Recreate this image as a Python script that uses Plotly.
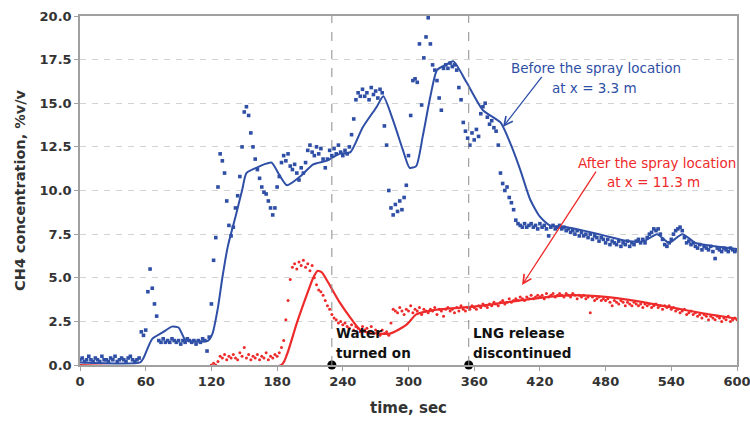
import numpy as np
import plotly.graph_objects as go

# Measured CH4 concentration (%v/v), sampled every 2 s
# Upstream of the water spray (x = 3.3 m), t = 0 .. 600 s
t_before = np.arange(0, 601, 2)
before_meas = [
    0.3, 0.4, 0.2, 0.3, 0.5, 0.3, 0.2, 0.4, 0.3, 0.2,        # 0-18
    0.5, 0.3, 0.3, 0.2, 0.4, 0.3, 0.5, 0.2, 0.3, 0.4,        # 20-38
    0.3, 0.2, 0.4, 0.5, 0.3, 0.2, 0.3, 0.4, 1.9, 1.7,        # 40-58
    2.0, 4.2, 5.5, 4.4, 3.5, 2.8, 1.4, 1.3, 1.5, 1.3,        # 60-78
    1.4, 1.3, 1.5, 1.4, 1.3, 1.4, 1.2, 1.4, 1.3, 1.5,        # 80-98
    1.4, 1.3, 1.4, 1.2, 1.4, 1.3, 1.5, 1.4, 0.8, 1.6,        # 100-118
    3.5, 6.0, 7.3, 10.2, 12.1, 11.7, 11.0, 9.4, 8.0, 7.4,    # 120-138
    7.9, 9.0, 9.7, 10.8, 12.5, 14.5, 14.8, 14.3, 13.3, 12.5, # 140-158
    11.8, 11.2, 10.7, 10.2, 9.9, 9.8, 9.4, 9.0, 8.6, 9.0,    # 160-178
    10.2, 10.8, 11.6, 12.0, 11.7, 12.1, 11.4, 11.2, 11.5, 11.0,  # 180-198
    10.6, 11.3, 11.0, 11.6, 12.3, 12.6, 12.2, 12.0, 12.5, 12.1,  # 200-218
    12.4, 11.8, 11.3, 11.8, 12.3, 12.0, 12.4, 12.1, 12.6, 12.2,  # 220-238
    12.0, 12.3, 12.1, 12.5, 13.2, 14.1, 15.2, 15.6, 15.4, 15.8,  # 240-258
    15.4, 15.6, 15.2, 15.9, 15.5, 15.7, 15.3, 15.8, 15.6, 13.7,  # 260-278
    12.6, 10.0, 9.0, 8.6, 9.2, 8.8, 9.4, 8.9, 9.6, 10.3,     # 280-298
    12.0, 14.3, 16.3, 16.4, 16.2, 18.4, 14.9, 17.6, 18.8, 19.9,  # 300-318
    18.4, 17.2, 16.9, 16.3, 15.3, 14.6, 17.0, 17.2, 17.0, 17.3,  # 320-338
    17.1, 17.2, 16.9, 15.9, 15.2, 13.9, 13.4, 13.0, 12.6, 13.3,  # 340-358
    12.9, 13.5, 13.1, 14.4, 14.8, 15.0, 14.2, 13.8, 14.0, 13.6,  # 360-378
    13.4, 12.6, 11.0, 10.4, 10.0, 10.2, 9.6, 9.3, 8.9, 8.3,  # 380-398
    8.1, 8.0, 7.9, 8.1, 7.9, 8.0, 8.1, 7.9, 8.0, 7.8,        # 400-418
    8.1, 7.9, 8.0, 7.8, 7.4, 7.9, 8.0, 7.8, 7.9, 8.0,        # 420-438
    7.8, 7.9, 7.7, 7.8, 7.6, 7.7, 7.5, 7.7, 7.4, 7.6,        # 440-458
    7.4, 7.5, 7.3, 7.5, 7.2, 7.4, 7.3, 7.1, 7.3, 7.2,        # 460-478
    7.0, 7.2, 6.9, 7.1, 7.0, 6.9, 7.1, 6.8, 7.0, 6.9,        # 480-498
    7.1, 6.8, 7.0, 6.9, 7.1, 7.2, 7.0, 7.2, 7.0, 7.3,        # 500-518
    7.5, 7.6, 7.8, 7.7, 7.8, 7.5, 7.2, 6.9, 6.8, 7.0,        # 520-538
    7.2, 7.5, 7.7, 7.8, 7.9, 7.7, 7.3, 7.0, 7.1, 6.9,        # 540-558
    7.0, 6.8, 6.7, 6.9, 6.6, 6.8, 6.7, 6.6, 6.8, 6.5,        # 560-578
    6.1, 6.7, 6.6, 6.5, 6.7, 6.6, 6.5, 6.7, 6.6, 6.5,        # 580-598
    6.6,                                                     # 600
]

# Downstream of the water spray (x = 11.3 m), t = 120 .. 600 s
t_after = np.arange(120, 601, 2)
after_meas = [
    0.0, 0.1, 0.0, 0.2, 0.5, 0.4, 0.6, 0.3, 0.5, 0.4,        # 120-138
    0.6, 0.4, 0.3, 0.7, 0.5, 1.0, 0.4, 0.6, 0.3, 0.5,        # 140-158
    0.4, 0.6, 0.3, 0.5, 0.4, 0.7, 0.3, 0.5, 0.4, 0.6,        # 160-178
    0.5, 0.7, 1.0, 1.4, 2.6, 3.7, 4.9, 5.6, 5.8, 5.5,        # 180-198
    5.9, 5.7, 6.0, 5.6, 5.8, 5.4, 5.7, 5.0, 4.6, 4.3,        # 200-218
    4.2, 4.0, 3.7, 3.4, 3.2, 2.9, 2.7, 2.6, 2.4, 2.5,        # 220-238
    2.3, 2.4, 2.2, 2.1, 2.3, 2.0, 2.2, 2.1, 1.9, 2.2,        # 240-258
    2.0, 2.1, 1.9, 2.2, 1.8, 2.0, 1.9, 1.7, 2.0, 1.8,        # 260-278
    1.9, 1.7, 2.4, 3.2, 3.1, 3.0, 3.3, 3.1, 2.9, 3.2,        # 280-298
    3.1, 3.4, 3.0, 3.2, 3.1, 3.3, 2.9, 3.2, 3.1, 3.0,        # 300-318
    3.2, 3.1, 3.3, 2.9, 3.2, 3.1, 2.8, 3.2, 3.3, 3.1,        # 320-338
    3.2, 3.0, 3.3, 3.1, 3.4, 3.2, 3.1, 3.3, 3.2, 3.4,        # 340-358
    3.3, 3.2, 3.4, 3.3, 3.5, 3.4, 3.3, 3.5, 3.4, 3.6,        # 360-378
    3.5, 3.4, 3.6, 3.7, 3.5, 3.6, 3.8, 3.6, 3.7, 3.8,        # 380-398
    3.7, 3.9, 3.8, 3.7, 3.9, 3.8, 4.0, 3.8, 3.9, 4.0,        # 400-418
    3.9, 4.0, 3.8, 4.1, 3.9, 4.0, 4.1, 3.9, 4.0, 4.1,        # 420-438
    4.0, 3.9, 4.1, 4.0, 3.9, 4.1, 4.0, 3.8, 4.0, 3.9,        # 440-458
    4.0, 3.8, 3.9, 3.0, 3.9, 3.7, 3.8, 3.9, 3.7, 3.8,        # 460-478
    3.7, 3.8, 3.6, 3.4, 3.7, 3.6, 3.5, 3.7, 3.6, 3.4,        # 480-498
    3.6, 3.5, 3.4, 3.6, 3.5, 3.4, 3.5, 3.3, 3.5, 3.4,        # 500-518
    3.5, 3.3, 3.4, 3.5, 3.3, 3.4, 3.2, 3.4, 3.3, 3.4,        # 520-538
    3.2, 3.3, 3.1, 3.2, 3.0, 3.1, 3.2, 2.9, 3.0, 3.1,        # 540-558
    2.9, 3.0, 2.8, 2.9, 2.7, 2.9, 2.8, 2.6, 2.8, 2.7,        # 560-578
    2.6, 2.8, 2.7, 2.5, 2.7, 2.6, 2.8, 2.5, 2.6, 2.7,        # 580-598
    2.6,                                                     # 600
]

# Model predictions (smooth curves)
t_model_before = [0, 55, 58, 62, 66, 75, 84, 90, 96, 102, 117, 121, 126, 130,
                  135, 142, 148, 152, 161, 168, 175, 182, 189, 201, 213, 225,
                  237, 247, 258, 271, 277, 286, 295, 301, 307, 313, 320, 326,
                  334, 341, 353, 368, 384, 393, 402, 411, 420, 429, 445, 460,
                  480, 500, 515, 527, 538, 550, 562, 580, 600]
model_before = [0.15, 0.15, 0.4, 1.0, 1.5, 1.85, 2.2, 2.15, 1.45, 1.35, 1.4,
                1.8, 3.3, 5.0, 6.8, 8.5, 10.0, 11.0, 11.3, 11.5, 11.6, 10.9,
                10.3, 10.8, 11.5, 11.7, 12.1, 12.2, 13.6, 14.8, 15.4, 14.0,
                12.3, 11.3, 11.4, 13.1, 15.4, 16.9, 17.2, 17.4, 16.2, 14.6,
                13.9, 12.7, 11.2, 9.5, 8.5, 8.0, 7.9, 7.7, 7.4, 7.1, 7.1, 7.5,
                7.0, 7.5, 7.0, 6.8, 6.65]

t_model_after = [0, 184, 189, 198, 207, 213, 217, 221, 226, 237, 247, 256,
                 265, 283, 298, 307, 315, 330, 360, 390, 420, 450, 480, 510,
                 540, 570, 600]
model_after = [0.0, 0.0, 0.6, 2.4, 4.0, 5.0, 5.4, 5.3, 4.8, 3.6, 2.7, 2.0,
               1.85, 1.8, 2.3, 2.9, 3.05, 3.2, 3.35, 3.6, 3.85, 4.0, 3.9, 3.65,
               3.3, 2.95, 2.65]

# Event times on the time axis
event_times = [230, 355]
event_labels = [["Water", "turned on"], ["LNG release", "discontinued"]]

x_ticks = list(range(0, 601, 60))
y_ticks = [0, 2.5, 5, 7.5, 10, 12.5, 15, 17.5, 20]

BLUE = "#2f4fa6"
RED = "#ee2a2a"
FONT = "DejaVu Sans"

fig = go.Figure()

fig.add_trace(go.Scatter(
    x=t_before, y=before_meas, mode="markers",
    marker=dict(symbol="square", size=3.6, color=BLUE),
    name="Before, measured"))
fig.add_trace(go.Scatter(
    x=t_model_before, y=model_before, mode="lines",
    line=dict(color=BLUE, width=2, shape="spline", smoothing=0.6),
    name="Before, model"))
fig.add_trace(go.Scatter(
    x=t_after, y=after_meas, mode="markers",
    marker=dict(symbol="circle", size=3, color=RED),
    name="After, measured"))
fig.add_trace(go.Scatter(
    x=t_model_after, y=model_after, mode="lines",
    line=dict(color=RED, width=2.2, shape="spline", smoothing=0.6),
    name="After, model"))

# Event markers on the time axis
fig.add_trace(go.Scatter(
    x=event_times, y=[0, 0], mode="markers",
    marker=dict(color="black", size=9), cliponaxis=False,
    name="Events"))

for t in event_times:
    fig.add_shape(type="line", x0=t, x1=t, y0=0, y1=20, xref="x", yref="y",
                  line=dict(color="#8c8c8c", width=1, dash="dash"))

annotations = []
# Event labels
for t, lines in zip(event_times, event_labels):
    for i, txt in enumerate(lines):
        annotations.append(dict(
            x=t + 2, y=[1.83, 0.69][i], xref="x", yref="y", text=txt,
            showarrow=False, xanchor="left", yanchor="middle",
            font=dict(family=FONT, size=13.5, color="#111", weight="bold")))

# Series call-outs with arrows
callouts = [
    (["Before the spray location", "at x = 3.3 m"], [596, 594], [68, 88], BLUE,
     (386.3, 13.64), (422.8, 16.6)),
    (["After the spray location", "at x = 11.3 m"], [657, 653], [163, 182], RED,
     (403.7, 4.58), (472.1, 11.17)),
]
for lines, xs, ys, col, head, tail in callouts:
    for txt, px, py in zip(lines, xs, ys):
        annotations.append(dict(
            x=(px - 80) / 657, y=1 - (py - 16) / 349, xref="paper", yref="paper",
            text=txt, showarrow=False, xanchor="center", yanchor="middle",
            font=dict(family=FONT, size=13.5, color=col)))
    annotations.append(dict(
        x=head[0], y=head[1], ax=tail[0], ay=tail[1], xref="x", yref="y",
        axref="x", ayref="y", text="", showarrow=True, arrowhead=5,
        arrowsize=1.3, arrowwidth=1.3, arrowcolor=col))

fig.update_layout(
    width=750, height=430,
    margin=dict(l=80, r=13, t=16, b=65),
    paper_bgcolor="white", plot_bgcolor="white",
    showlegend=False,
    font=dict(family=FONT, color="#333"),
    annotations=annotations,
)

fig.update_xaxes(
    range=[0, 600], tickvals=x_ticks, ticktext=[str(v) for v in x_ticks],
    automargin=False, ticklabeloverflow="allow",
    showgrid=False, zeroline=False,
    showline=True, linecolor="#a0a0a0", linewidth=1.5, mirror=True,
    ticks="outside", ticklen=4, tickcolor="#a0a0a0",
    tickfont=dict(family=FONT, size=13, color="#333", weight="bold"),
    title=dict(text="time, sec", standoff=14,
               font=dict(family=FONT, size=15, color="#333", weight="bold")),
)
fig.update_yaxes(
    range=[0, 20], tickvals=y_ticks, ticktext=[f"{v:.1f}" for v in y_ticks],
    automargin=False, ticklabeloverflow="allow",
    showgrid=True, gridcolor="#d2d2d2", griddash="6px,6px", gridwidth=1,
    zeroline=False,
    showline=True, linecolor="#a0a0a0", linewidth=1.5, mirror=True,
    ticks="outside", ticklen=4, tickcolor="#a0a0a0",
    tickfont=dict(family=FONT, size=13, color="#333", weight="bold"),
    title=dict(text="CH4 concentration, %v/v", standoff=10,
               font=dict(family=FONT, size=14.5, color="#333", weight="bold")),
)

fig.write_html("out.html")
